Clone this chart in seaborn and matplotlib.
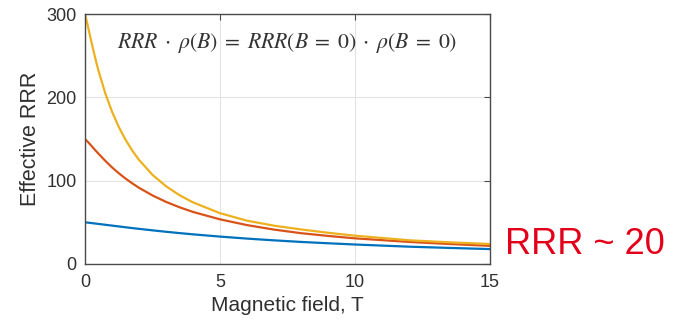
import numpy as np
import pandas as pd
import matplotlib.pyplot as plt
import seaborn as sns

# Значения
field_T = [0, 0.1, 0.25, 0.4, 0.5, 0.75, 1, 1.25, 1.5, 1.75, 2, 2.5, 3, 3.5, 4,
           5, 6, 7, 8, 9, 10, 12, 13.5, 15]
rrr_50 = [50, 49.7, 49.1, 48.5, 48.1, 47.1, 46.1, 45.1, 44.1, 43.1, 42.2, 40.4, 38.7, 37.1, 35.6,
          32.9, 30.5, 28.4, 26.5, 24.9, 23.4, 20.8, 19.3, 17.9]
rrr_150 = [150, 146.8, 141.4, 135.9, 132.4, 123.9, 116, 109, 102.6, 96.8, 91.5, 82.3, 74.6, 68.1, 62.5,
           53.6, 46.7, 41.3, 37, 33.7, 30.8, 26.5, 24, 21.8]
rrr_300 = [300, 286.5, 264.7, 244.5, 232, 205, 183, 164.6, 149.3, 136.2, 125, 107, 93.4, 82.6, 74,
           61, 52, 46, 41.5, 37.5, 34, 28.5, 26, 24]

series_names = ["RRR 50", "RRR 150", "RRR 300"]
colors = ["#0072BD", "#D95319", "#EDB120"]

x_ticks = [0, 5, 10, 15]
y_ticks = [0, 100, 200, 300]

df = pd.concat([
    pd.DataFrame({"B": field_T, "rrr": vals, "series": name})
    for name, vals in zip(series_names, [rrr_50, rrr_150, rrr_300])
])

sns.set_theme(style="whitegrid")
plt.rcParams.update({
    "font.family": ["Liberation Sans", "DejaVu Sans"],
    "mathtext.fontset": "stix",
})

fig = plt.figure(figsize=(6.73, 3.2), dpi=100)
ax = fig.add_axes([0.1263, 0.175, 0.6017, 0.781])

sns.lineplot(data=df, x="B", y="rrr", hue="series", palette=colors,
             linewidth=1.6, legend=False, ax=ax)

ax.set_xlim(0, 15)
ax.set_ylim(0, 300)
ax.set_xticks(x_ticks)
ax.set_yticks(y_ticks)
ax.grid(True, color="#e3e3e3", linewidth=0.8)
ax.set_facecolor("white")
for s in ax.spines.values():
    s.set_visible(True)
    s.set_color("#4a4a4a")
    s.set_linewidth(1.0)
ax.tick_params(direction="in", length=4, width=0.8, color="#4a4a4a",
               top=True, right=True, labelsize=13, labelcolor="#303030")
ax.tick_params(axis="x", pad=7)
ax.tick_params(axis="y", pad=6)

ax.set_xlabel("Magnetic field, T", fontsize=15, color="#303030", labelpad=4)
ax.set_ylabel("Effective RRR", fontsize=15.5, color="#303030", labelpad=4)

ax.text(0.5, 0.885,
        r"$RRR \;\cdot\; \rho(B) \;=\; RRR(B \;=\; 0) \;\cdot\; \rho(B \;=\; 0)$",
        transform=ax.transAxes, ha="center", va="center",
        fontsize=15.7, color="#333333")

fig.text(0.75, 0.235, "RRR ~ 20", fontsize=26, color="#E3001B",
         ha="left", va="center")

fig.savefig("out.png", dpi=100, facecolor="white")
